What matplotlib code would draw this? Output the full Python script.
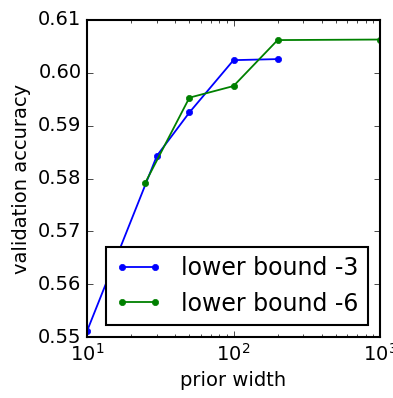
import matplotlib
matplotlib.use('Agg')
import matplotlib.pyplot as plt

plt.style.use('classic')

# datos
width_lb3 = [10, 30, 50, 100, 200]
acc_lb3 = [0.5511, 0.5843, 0.5925, 0.6024, 0.6026]
width_lb6 = [25, 50, 100, 200, 1000]
acc_lb6 = [0.5792, 0.5953, 0.5975, 0.6062, 0.6063]

plt.rcParams['axes.linewidth'] = 1.5

fig = plt.figure(figsize=(3.93, 3.98), dpi=100, facecolor='white')
ax = fig.add_axes([87/393, 1 - 337/398, 293/393, 317/398])

ax.plot(width_lb3, acc_lb3, 'b-o', markersize=4.5, markeredgecolor='b', linewidth=1.3, label='lower bound -3')
ax.plot(width_lb6, acc_lb6, 'g-o', markersize=4.5, markeredgecolor='g', linewidth=1.3, label='lower bound -6')

ax.set_xscale('log')
ax.set_xlim(10, 1000)
ax.set_ylim(0.55, 0.61)
ax.set_xlabel('prior width', fontsize=14)
ax.set_ylabel('validation accuracy', fontsize=14)
ax.tick_params(labelsize=14)
leg = ax.legend(loc='lower right', fontsize=17, borderaxespad=0.5)
leg.get_frame().set_linewidth(1.5)

fig.savefig('out.png', dpi=100, facecolor='white')
